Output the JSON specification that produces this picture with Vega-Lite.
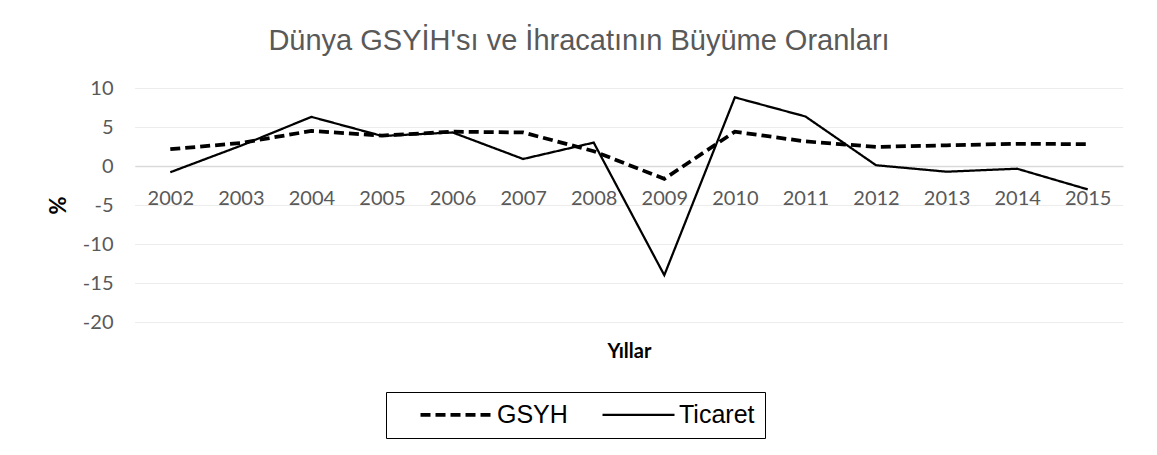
{
  "$schema": "https://vega.github.io/schema/vega-lite/v6.json",
  "autosize": {"type": "none"},
  "padding": {"left": 135, "top": 88, "right": 34, "bottom": 133},
  "width": 988,
  "height": 234,
  "background": "white",
  "title": {
    "text": "Dünya GSYİH'sı ve İhracatının Büyüme Oranları",
    "font": "Liberation Sans",
    "fontSize": 29,
    "fontWeight": "normal",
    "color": "#595959",
    "anchor": "middle",
    "frame": "group",
    "dx": -50,
    "offset": 22
  },
  "data": {
    "values": [
      {"yil": "2002", "seri": "GSYH", "deger": 2.15},
      {"yil": "2003", "seri": "GSYH", "deger": 2.95},
      {"yil": "2004", "seri": "GSYH", "deger": 4.5},
      {"yil": "2005", "seri": "GSYH", "deger": 3.9},
      {"yil": "2006", "seri": "GSYH", "deger": 4.4},
      {"yil": "2007", "seri": "GSYH", "deger": 4.3},
      {"yil": "2008", "seri": "GSYH", "deger": 1.9},
      {"yil": "2009", "seri": "GSYH", "deger": -1.65},
      {"yil": "2010", "seri": "GSYH", "deger": 4.4},
      {"yil": "2011", "seri": "GSYH", "deger": 3.15},
      {"yil": "2012", "seri": "GSYH", "deger": 2.45},
      {"yil": "2013", "seri": "GSYH", "deger": 2.65},
      {"yil": "2014", "seri": "GSYH", "deger": 2.85},
      {"yil": "2015", "seri": "GSYH", "deger": 2.8},
      {"yil": "2002", "seri": "Ticaret", "deger": -0.8},
      {"yil": "2003", "seri": "Ticaret", "deger": 2.6},
      {"yil": "2004", "seri": "Ticaret", "deger": 6.3},
      {"yil": "2005", "seri": "Ticaret", "deger": 3.85},
      {"yil": "2006", "seri": "Ticaret", "deger": 4.3},
      {"yil": "2007", "seri": "Ticaret", "deger": 0.9},
      {"yil": "2008", "seri": "Ticaret", "deger": 3.0},
      {"yil": "2009", "seri": "Ticaret", "deger": -14.0},
      {"yil": "2010", "seri": "Ticaret", "deger": 8.8},
      {"yil": "2011", "seri": "Ticaret", "deger": 6.35},
      {"yil": "2012", "seri": "Ticaret", "deger": 0.1},
      {"yil": "2013", "seri": "Ticaret", "deger": -0.73},
      {"yil": "2014", "seri": "Ticaret", "deger": -0.35},
      {"yil": "2015", "seri": "Ticaret", "deger": -3.0}
    ]
  },
  "mark": {"type": "line", "strokeCap": "butt"},
  "encoding": {
    "x": {
      "field": "yil",
      "type": "ordinal",
      "scale": {"type": "point", "padding": 0.5},
      "axis": {
        "title": "Yıllar",
        "titleFont": "Lato",
        "titleFontSize": 20,
        "titleFontWeight": "bold",
        "titleColor": "#000000",
        "titlePadding": 133,
        "offset": -156,
        "labelAngle": 0,
        "labelFont": "Lato",
        "labelFontSize": 20,
        "labelColor": "#595959",
        "labelPadding": 22,
        "ticks": false,
        "domainColor": "#d9d9d9",
        "domainWidth": 1.5,
        "grid": false
      }
    },
    "y": {
      "field": "deger",
      "type": "quantitative",
      "scale": {"domain": [-20, 10], "nice": false, "zero": false},
      "axis": {
        "title": "%",
        "titleFont": "Lato",
        "titleFontSize": 22,
        "titleFontWeight": "bold",
        "titleColor": "#000000",
        "titlePadding": 12,
        "values": [-20, -15, -10, -5, 0, 5, 10],
        "labelExpr": "'' + datum.value",
        "labelFont": "Lato",
        "labelFontSize": 20,
        "labelColor": "#595959",
        "labelPadding": 22,
        "ticks": false,
        "domain": false,
        "grid": true,
        "gridColor": "#d9d9d9",
        "gridDash": [1, 1],
        "gridWidth": 1
      }
    },
    "color": {
      "field": "seri",
      "type": "nominal",
      "scale": {"range": ["#000000", "#000000"]},
      "legend": {
        "title": null,
        "orient": "none",
        "legendX": 251,
        "legendY": 304,
        "direction": "horizontal",
        "symbolType": "M-4,0L4,0",
        "symbolSize": 324,
        "symbolOffset": 48,
        "symbolStrokeColor": "#000000",
        "labelFont": "Liberation Sans",
        "labelFontSize": 25,
        "labelColor": "#000000",
        "labelOffset": 28,
        "columnPadding": 10,
        "padding": 10,
        "strokeColor": "#000000"
      }
    },
    "strokeDash": {
      "field": "seri",
      "type": "nominal",
      "scale": {"range": [[10, 5], [1, 0]]}
    },
    "strokeWidth": {
      "field": "seri",
      "type": "nominal",
      "scale": {"range": [3.75, 2.25]}
    }
  },
  "config": {
    "view": {"stroke": null}
  }
}
